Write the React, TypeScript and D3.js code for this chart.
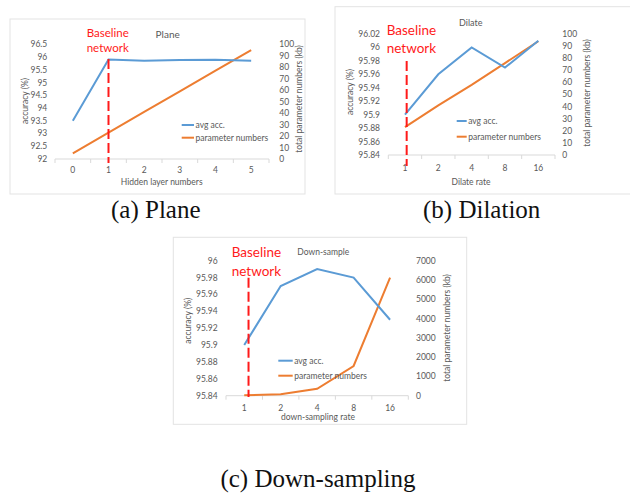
import * as d3 from "d3";

// ---- data ----
const planeRates = ["0", "1", "2", "3", "4", "5"];
const planeAcc = [93.5, 95.9, 95.85, 95.88, 95.89, 95.85];
const planeParams = [5, 23, 41, 59, 77, 95];
const planeAccTicks = [92, 92.5, 93, 93.5, 94, 94.5, 95, 95.5, 96, 96.5];
const planeParamTicks = [0, 10, 20, 30, 40, 50, 60, 70, 80, 90, 100];

const dilateRates = ["1", "2", "4", "8", "16"];
const dilateAcc = [95.9, 95.96, 96.0, 95.97, 96.01];
const dilateParams = [23, 41, 58, 76, 94];
const dilateAccTicks = [95.84, 95.86, 95.88, 95.9, 95.92, 95.94, 95.96, 95.98, 96, 96.02];
const dilateParamTicks = [0, 10, 20, 30, 40, 50, 60, 70, 80, 90, 100];

const downRates = ["1", "2", "4", "8", "16"];
const downAcc = [95.9, 95.97, 95.99, 95.98, 95.93];
const downParams = [20, 80, 360, 1540, 6120];
const downAccTicks = [95.84, 95.86, 95.88, 95.9, 95.92, 95.94, 95.96, 95.98, 96];
const downParamTicks = [0, 1000, 2000, 3000, 4000, 5000, 6000, 7000];

const BLUE = "#5B9BD5";
const ORANGE = "#ED7D31";
const RED = "#FF1A1A";
const GREY = "#595959";
const FONT = "Lato, 'Open Sans', sans-serif";

function Panel(p) {
  const x = d3.scaleBand().domain(p.rates).range([p.x0, p.x1]);
  const yl = d3.scaleLinear().domain([p.accTicks[0], p.accTicks[p.accTicks.length - 1]]).range([p.yb, p.yt]);
  const yr = d3.scaleLinear().domain([p.paramTicks[0], p.paramTicks[p.paramTicks.length - 1]]).range([p.yb, p.yt]);
  const cx = (r) => x(r) + x.bandwidth() / 2;

  const accLine = d3.line().x((d, i) => cx(p.rates[i])).y((d) => yl(d));
  const parLine = d3.line().x((d, i) => cx(p.rates[i])).y((d) => yr(d));

  const bounds = [...p.rates.map((r) => x(r)), p.x1];
  const fmt = (v) => String(+v.toFixed(2));
  const dashX = cx(p.baseRate) + p.dashOff;

  return (
    <g fontFamily={FONT}>
      <rect x={p.frame[0]} y={p.frame[1]} width={p.frame[2]} height={p.frame[3]} fill="white" stroke="#e3e3e3" />
      <text x={p.title[0]} y={p.title[1]} textAnchor="middle" fontSize={p.titleSize} fill={GREY}>
        {p.titleText}
      </text>

      {/* x axis */}
      <line x1={p.x0} x2={p.x1} y1={p.yb} y2={p.yb} stroke="#d9d9d9" />
      {bounds.map((b, i) => (
        <line key={i} x1={b} x2={b} y1={p.yb} y2={p.yb + 4} stroke="#d9d9d9" />
      ))}
      {p.rates.map((r) => (
        <text key={r} x={cx(r)} y={p.tickY} textAnchor="middle" fontSize={p.fs} fill={GREY}>
          {r}
        </text>
      ))}
      <text x={p.xlab[0]} y={p.xlab[1]} textAnchor="middle" fontSize={p.fs} fill={GREY}>
        {p.xlabText}
      </text>

      {/* left axis */}
      {p.accTicks.map((t) => (
        <text key={t} x={p.leftX} y={yl(t)} dy="0.35em" textAnchor="end" fontSize={p.fs} fill={GREY}>
          {fmt(t)}
        </text>
      ))}
      <text
        transform={`translate(${p.ylab[0]},${p.ylab[1]}) rotate(-90)`}
        textAnchor="middle"
        dy="0.35em"
        fontSize={p.fs}
        fill={GREY}
      >
        accuracy (%)
      </text>

      {/* right axis */}
      {p.paramTicks.map((t) => (
        <text key={t} x={p.rightX} y={yr(t)} dy="0.35em" textAnchor="start" fontSize={p.fs} fill={GREY}>
          {t}
        </text>
      ))}
      <text
        transform={`translate(${p.rlab[0]},${p.rlab[1]}) rotate(-90)`}
        textAnchor="middle"
        dy="0.35em"
        fontSize={p.fs}
        fill={GREY}
      >
        total parameter numbers (kb)
      </text>

      {/* series */}
      <path d={parLine(p.params)} fill="none" stroke={ORANGE} strokeWidth={2} />
      <path d={accLine(p.acc)} fill="none" stroke={BLUE} strokeWidth={2} />

      {/* legend */}
      <line x1={p.leg[0]} x2={p.leg[0] + p.leg[3]} y1={p.leg[1]} y2={p.leg[1]} stroke={BLUE} strokeWidth={2} />
      <text x={p.leg[0] + p.leg[3] + 1.5} y={p.leg[1]} dy="0.35em" fontSize={p.fs} fill={GREY}>
        avg acc.
      </text>
      <line x1={p.leg[0]} x2={p.leg[0] + p.leg[3]} y1={p.leg[2]} y2={p.leg[2]} stroke={ORANGE} strokeWidth={2} />
      <text x={p.leg[0] + p.leg[3] + 1.5} y={p.leg[2]} dy="0.35em" fontSize={p.fs} fill={GREY}>
        parameter numbers
      </text>

      {/* baseline annotation */}
      <line x1={dashX} x2={dashX} y1={p.dashY[0]} y2={p.dashY[1]} stroke={RED} strokeWidth={2} strokeDasharray="10,4" />
      <text x={p.base[0]} y={p.base[1]} fontSize={p.baseSize} fill={RED}>
        Baseline
      </text>
      <text x={p.base[0]} y={p.base[2]} fontSize={p.baseSize} fill={RED}>
        network
      </text>
    </g>
  );
}

export default function App() {
  return (
    <svg width={630} height={503} style={{ position: "absolute", left: 0, top: 0, background: "white" }}>
      <Panel
        rates={planeRates}
        acc={planeAcc}
        params={planeParams}
        accTicks={planeAccTicks}
        paramTicks={planeParamTicks}
        frame={[10, 19, 295, 175]}
        x0={55}
        x1={269}
        yb={159}
        yt={44.3}
        fs={8.5}
        titleText="Plane"
        title={[167.7, 38]}
        titleSize={10}
        tickY={173}
        xlabText="Hidden layer numbers"
        xlab={[161.7, 185]}
        leftX={47.3}
        rightX={279.3}
        ylab={[25, 101]}
        rlab={[299, 99]}
        leg={[181.7, 125, 137.7, 12.3]}
        baseRate="1"
        dashOff={0}
        dashY={[59, 163]}
        base={[86.7, 36.7, 51.7]}
        baseSize={11.5}
      />
      <Panel
        rates={dilateRates}
        acc={dilateAcc}
        params={dilateParams}
        accTicks={dilateAccTicks}
        paramTicks={dilateParamTicks}
        frame={[335, 6.7, 310, 187.3]}
        x0={388.3}
        x1={555}
        yb={155}
        yt={34}
        fs={8.5}
        titleText="Dilate"
        title={[470.7, 25.7]}
        titleSize={9}
        tickY={171}
        xlabText="Dilate rate"
        xlab={[471, 184.5]}
        leftX={380}
        rightX={562.3}
        ylab={[350, 92]}
        rlab={[586.7, 93]}
        leg={[456.7, 121, 136.7, 10]}
        baseRate="1"
        dashOff={1.7}
        dashY={[61, 166]}
        base={[386.7, 35, 53.3]}
        baseSize={13.5}
      />
      <Panel
        rates={downRates}
        acc={downAcc}
        params={downParams}
        accTicks={downAccTicks}
        paramTicks={downParamTicks}
        frame={[173.3, 237.3, 293.4, 187]}
        x0={226}
        x1={408.3}
        yb={395.7}
        yt={260.7}
        fs={8.5}
        titleText="Down-sample"
        title={[323.3, 254.5]}
        titleSize={8.5}
        tickY={410.5}
        xlabText="down-sampling rate"
        xlab={[318, 420]}
        leftX={217.7}
        rightX={416}
        ylab={[188.3, 320.7]}
        rlab={[446.7, 328]}
        leg={[278.3, 360.7, 375.7, 14.4]}
        baseRate="1"
        dashOff={4.3}
        dashY={[277.7, 397]}
        base={[231.7, 257.3, 275.7]}
        baseSize={13.5}
      />

      <g fontFamily="'Liberation Serif', 'Times New Roman', serif" fontSize={25} fill="#111">
        <text x={155.8} y={217.7} textAnchor="middle">(a) Plane</text>
        <text x={481.7} y={217.7} textAnchor="middle">(b) Dilation</text>
        <text x={318} y={487.3} textAnchor="middle">(c) Down-sampling</text>
      </g>
    </svg>
  );
}
